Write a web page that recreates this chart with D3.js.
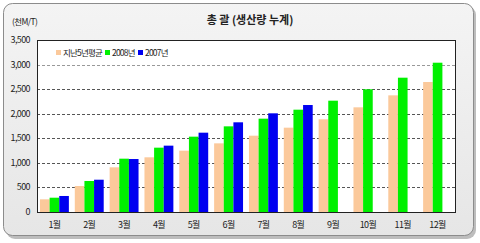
<!DOCTYPE html>
<html>
<head>
<meta charset="utf-8">
<script src="https://cdn.jsdelivr.net/npm/d3@7"></script>
<style>
body{margin:0;background:#fff;}
text{font-family:"Noto Sans CJK KR","DejaVu Sans",sans-serif;}
</style>
</head>
<body>
<svg id="chart"></svg>
<script>
// 차트 크기
var width = 480, height = 243;
var pad = {top:40, right:25, bottom:31, left:37};

// 데이터
var months = ["1월","2월","3월","4월","5월","6월","7월","8월","9월","10월","11월","12월"];
var seriesNames = ["지난5년평균","2008년","2007년"];
var seriesColors = ["#fbc99b","#00f000","#0000f0"];
var avg5 = [258,529,909,1113,1248,1397,1553,1716,1886,2130,2374,2645];
var y2008 = [291,631,1085,1309,1533,1743,1899,2082,2265,2497,2733,3038];
var y2007 = [326,657,1078,1350,1614,1825,2008,2177,null,null,null,null];
var yTicks = [0,500,1000,1500,2000,2500,3000,3500];

var svg = d3.select("#chart").attr("width",width).attr("height",height);

var defs = svg.append("defs");
var grad = defs.append("linearGradient").attr("id","bg").attr("x1",0).attr("y1",0).attr("x2",0).attr("y2",1);
grad.append("stop").attr("offset","0%").attr("stop-color","#f4f4f4");
grad.append("stop").attr("offset","100%").attr("stop-color","#e6e6e6");

// 바깥 테두리 + 그림자
svg.append("rect").attr("x",6).attr("y",6).attr("width",470).attr("height",233)
	.attr("rx",9).attr("fill","#bdbdbd");
svg.append("rect").attr("x",3.5).attr("y",3.5).attr("width",470).attr("height",232)
	.attr("rx",9).attr("fill","url(#bg)").attr("stroke","#8c8c8c");

var x0 = d3.scaleBand().domain(months).range([pad.left, width-pad.right]).paddingInner(0.17).paddingOuter(0.085);
var x1 = d3.scaleBand().domain([0,1,2]).range([0,x0.bandwidth()]);
var y = d3.scaleLinear().domain([0,3500]).range([height-pad.bottom, pad.top]);

// 플롯 영역
svg.append("rect").attr("x",pad.left).attr("y",pad.top)
	.attr("width",width-pad.right-pad.left).attr("height",height-pad.bottom-pad.top)
	.attr("fill","#fff");

// 격자선
svg.append("g").selectAll("line").data(yTicks.filter(d => d>0 && d<3500)).enter().append("line")
	.attr("x1",pad.left).attr("x2",width-pad.right)
	.attr("y1",d => Math.round(y(d))+0.5).attr("y2",d => Math.round(y(d))+0.5)
	.attr("stroke",d => d==3000 ? "#999" : "#555")
	.attr("stroke-dasharray","3,2");

// 막대
var allData = [avg5,y2008,y2007];
var g = svg.append("g");
allData.forEach(function(vals,si){
	g.append("g").selectAll("rect").data(vals.map((v,i)=>({m:months[i],v:v})).filter(d=>d.v!=null))
	 .enter().append("rect")
	 .attr("x",d => x0(d.m)+x1(si))
	 .attr("width",x1.bandwidth())
	 .attr("y",d => y(d.v))
	 .attr("height",d => y(0)-y(d.v))
	 .attr("fill",seriesColors[si]);
});

// 플롯 테두리
svg.append("rect").attr("x",pad.left+0.5).attr("y",pad.top+0.5)
	.attr("width",width-pad.right-pad.left).attr("height",height-pad.bottom-pad.top)
	.attr("fill","none").attr("stroke","#222");

// y축 라벨
svg.append("g").selectAll("text").data(yTicks).enter().append("text")
	.attr("x",pad.left-7).attr("y",d => y(d)+3)
	.attr("text-anchor","end").attr("font-size","9px").attr("letter-spacing","-0.6")
	.attr("fill","#222").text(d => d3.format(",")(d));

// x축 라벨
svg.append("g").selectAll("text").data(months).enter().append("text")
	.attr("x",d => x0(d)+x0.bandwidth()/2).attr("y",height-pad.bottom+16)
	.attr("text-anchor","middle").attr("font-size","9px").attr("letter-spacing","-0.6")
	.attr("fill","#222").text(d => d);

// 제목, 단위
svg.append("text").attr("x",250).attr("y",24).attr("text-anchor","middle")
	.attr("font-size","11px").attr("font-weight","bold").attr("fill","#222")
	.text("총 괄 (생산량 누계)");
svg.append("text").attr("x",12).attr("y",25).attr("font-size","8.5px").attr("letter-spacing","-0.6")
	.attr("fill","#222").text("(천M/T)");

// 범례
var legX = [56,105,138];
var leg = svg.append("g");
seriesNames.forEach(function(n,i){
	leg.append("rect").attr("x",legX[i]).attr("y",50).attr("width",5).attr("height",5).attr("fill",seriesColors[i]);
	leg.append("text").attr("x",legX[i]+7).attr("y",56).attr("font-size","8.5px").attr("letter-spacing","-0.8")
		.attr("fill","#222").text(n);
});
</script>
</body>
</html>
